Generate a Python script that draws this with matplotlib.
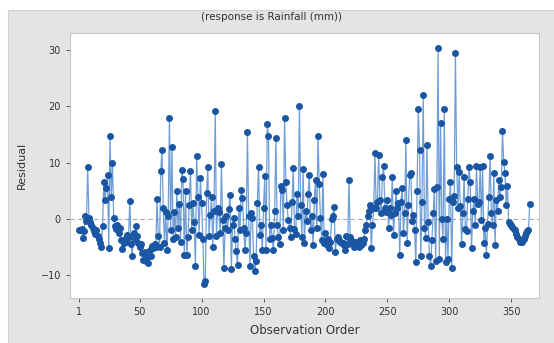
import numpy as np
import matplotlib
matplotlib.use('Agg')
import matplotlib.pyplot as plt
from matplotlib.patches import Rectangle

# residuals, observation 1..365
residuals = [
    -1.9, -2.0, -1.8, -3.4, -2.2, 0.5, -0.3, 9.3, 0.2, -0.6,
    -1.0, -1.6, -2.2, -2.7, -2.0, -3.0, -3.6, -4.2, -4.9, -1.2,
    6.6, 3.4, 5.5, 7.8, -5.2, 14.7, 4.0, 10.0, 0.2, -1.2,
    -1.8, -1.0, -2.5, -1.6, -3.8, -5.3, -4.2, -3.5, -4.0, -2.8,
    -3.2, 3.2, -4.5, -6.6, -2.5, -3.5, -1.2, -3.0, -4.3, -5.0,
    -4.5, -6.0, -7.2, -5.8, -7.5, -6.8, -7.8, -5.5, -6.5, -4.8,
    -5.2, -4.5, -5.0, 3.5, -3.0, -5.0, 8.6, 12.3, 2.0, -4.2,
    1.3, -5.5, 0.5, 18.0, -2.0, 12.8, -3.5, 1.3, -3.1, 4.9,
    -1.5, 2.7, -4.0, 8.7, 7.1, -6.3, 4.9, -6.4, -3.1, 2.5,
    8.6, -2.0, 2.8, -0.5, -8.4, 11.2, 4.0, -2.8, 7.2, 2.8,
    -3.5, -11.5, -11.0, 4.6, 9.2, -3.0, 0.8, 4.0, -4.9, 1.5,
    19.1, -3.0, 2.0, 1.2, -2.5, 9.8, -0.2, -8.6, -1.5, 0.5,
    -2.0, 1.8, 4.2, -8.9, -1.0, 0.2, -3.5, -5.7, -8.2, 2.0,
    -2.0, 5.2, 3.7, -1.5, -5.5, -2.5, 15.5, 0.5, -8.4, 1.0,
    0.2, -6.5, -9.2, -7.5, 2.8, 9.3, -2.8, -1.0, -5.5, 2.0,
    7.6, -5.5, 16.9, 14.7, -3.5, -1.0, -3.3, -5.5, 1.5, 14.4,
    -1.0, -3.2, -4.5, 5.8, 5.2, -2.0, 17.9, 6.6, 2.5, -0.2,
    -1.5, -3.1, 3.0, 9.0, -1.8, -2.6, 4.5, 0.5, 20.1, 2.5,
    -3.1, 8.9, -4.3, 1.5, -0.4, 4.5, 7.9, -2.0, 0.5, -4.6,
    3.4, 7.0, -1.6, 14.7, 6.2, 0.2, -3.7, 8.0, -4.3, -2.5,
    -4.6, -3.5, -5.2, -4.0, 0.0, 0.6, 2.1, -5.8, -3.5, -3.1,
    -3.8, -4.0, -4.3, -4.3, -4.6, -5.5, -3.0, -4.5, 7.0, -3.1,
    -3.8, -4.3, -4.9, -4.0, -4.3, -4.5, -4.9, -3.8, -4.6, -4.3,
    -3.5, -1.9, -1.0, 0.5, 1.5, 2.5, -5.2, -1.0, 1.9, 11.7,
    2.0, 3.1, 11.4, 3.4, 1.0, 7.4, 9.5, 2.0, 1.3, 3.4,
    -1.6, 2.0, 0.8, 7.4, -2.8, 1.0, 4.9, 2.0, 2.8, -6.4,
    3.1, 5.5, -2.5, 1.0, 14.0, -4.3, 2.5, 7.8, 8.2, -0.4,
    0.8, -2.0, -7.6, 5.0, 19.5, 12.2, -6.6, 3.0, 22.0, -1.6,
    -3.3, 13.1, -0.5, -6.6, -8.3, -3.8, 1.0, 5.3, -7.5, 5.6,
    30.4, -7.1, 17.1, 0.0, -3.5, 19.5, -7.7, 0.0, -7.0, 3.5,
    6.5, -8.6, 3.0, 4.1, 29.5, 9.2, 2.0, 8.3, 2.4, -4.4,
    1.0, 7.4, -1.8, -2.1, 3.5, 9.3, 6.6, -5.2, 1.5, 3.5,
    -1.0, 9.5, 2.7, 3.0, 9.3, -0.2, 9.5, -4.3, -1.5, -6.4,
    -0.8, 4.0, 11.2, 1.0, -1.1, 8.1, -4.6, 3.4, 1.5, 6.9,
    4.0, 5.7, 15.6, 10.1, 8.1, 2.5, 5.9, -0.5, -0.8, -1.0,
    -1.4, -1.8, -2.0, -2.6, -3.2, -3.5, -4.0, -4.1, -4.0, -3.5,
    -3.0, -2.5, -2.2, -1.9, 2.6,
]
order = np.arange(1, len(residuals) + 1)
xticks = [1, 50, 100, 150, 200, 250, 300, 350]
yticks = [-10, 0, 10, 20, 30]

fig = plt.figure(figsize=(5.54, 3.43), dpi=100)
fig.patch.set_facecolor('white')
fig.patches.append(Rectangle((8 / 554, 0), 1, 333 / 343, transform=fig.transFigure,
                             facecolor='#e4e4e4', edgecolor='#d0d0d0', lw=0.8, zorder=-1))

ax = fig.add_axes([70 / 554, 45 / 343, 469 / 554, 265 / 343])
ax.set_facecolor('white')
ax.axhline(0, color='#a8a8a8', lw=0.8, ls=(0, (4, 3)), zorder=1)
ax.plot(order, residuals, color='#6f9ed6', lw=0.9, zorder=2)
ax.plot(order, residuals, 'o', color='#1a56a3', ms=4.0, mec='#1a56a3', zorder=3)

ax.set_xlim(-6.3, 372.5)
ax.set_ylim(-14.0, 33.0)
ax.set_xticks(xticks)
ax.set_yticks(yticks)
ax.tick_params(labelsize=7, colors='#404040', length=3, width=0.6)
for tl in ax.get_xticklabels() + ax.get_yticklabels():
    tl.set_color('#333333')
for s in ax.spines.values():
    s.set_color('#c8c8c8')

ax.set_xlabel('Observation Order', fontsize=8.5, color='#333333', labelpad=5)
ax.set_ylabel('Residual', fontsize=8, color='#333333', labelpad=10)
fig.text(0.49, 1 - 17 / 343, '(response is Rainfall (mm))', ha='center', va='center',
         fontsize=7.5, color='#333333')

fig.savefig('out.png', dpi=100)
